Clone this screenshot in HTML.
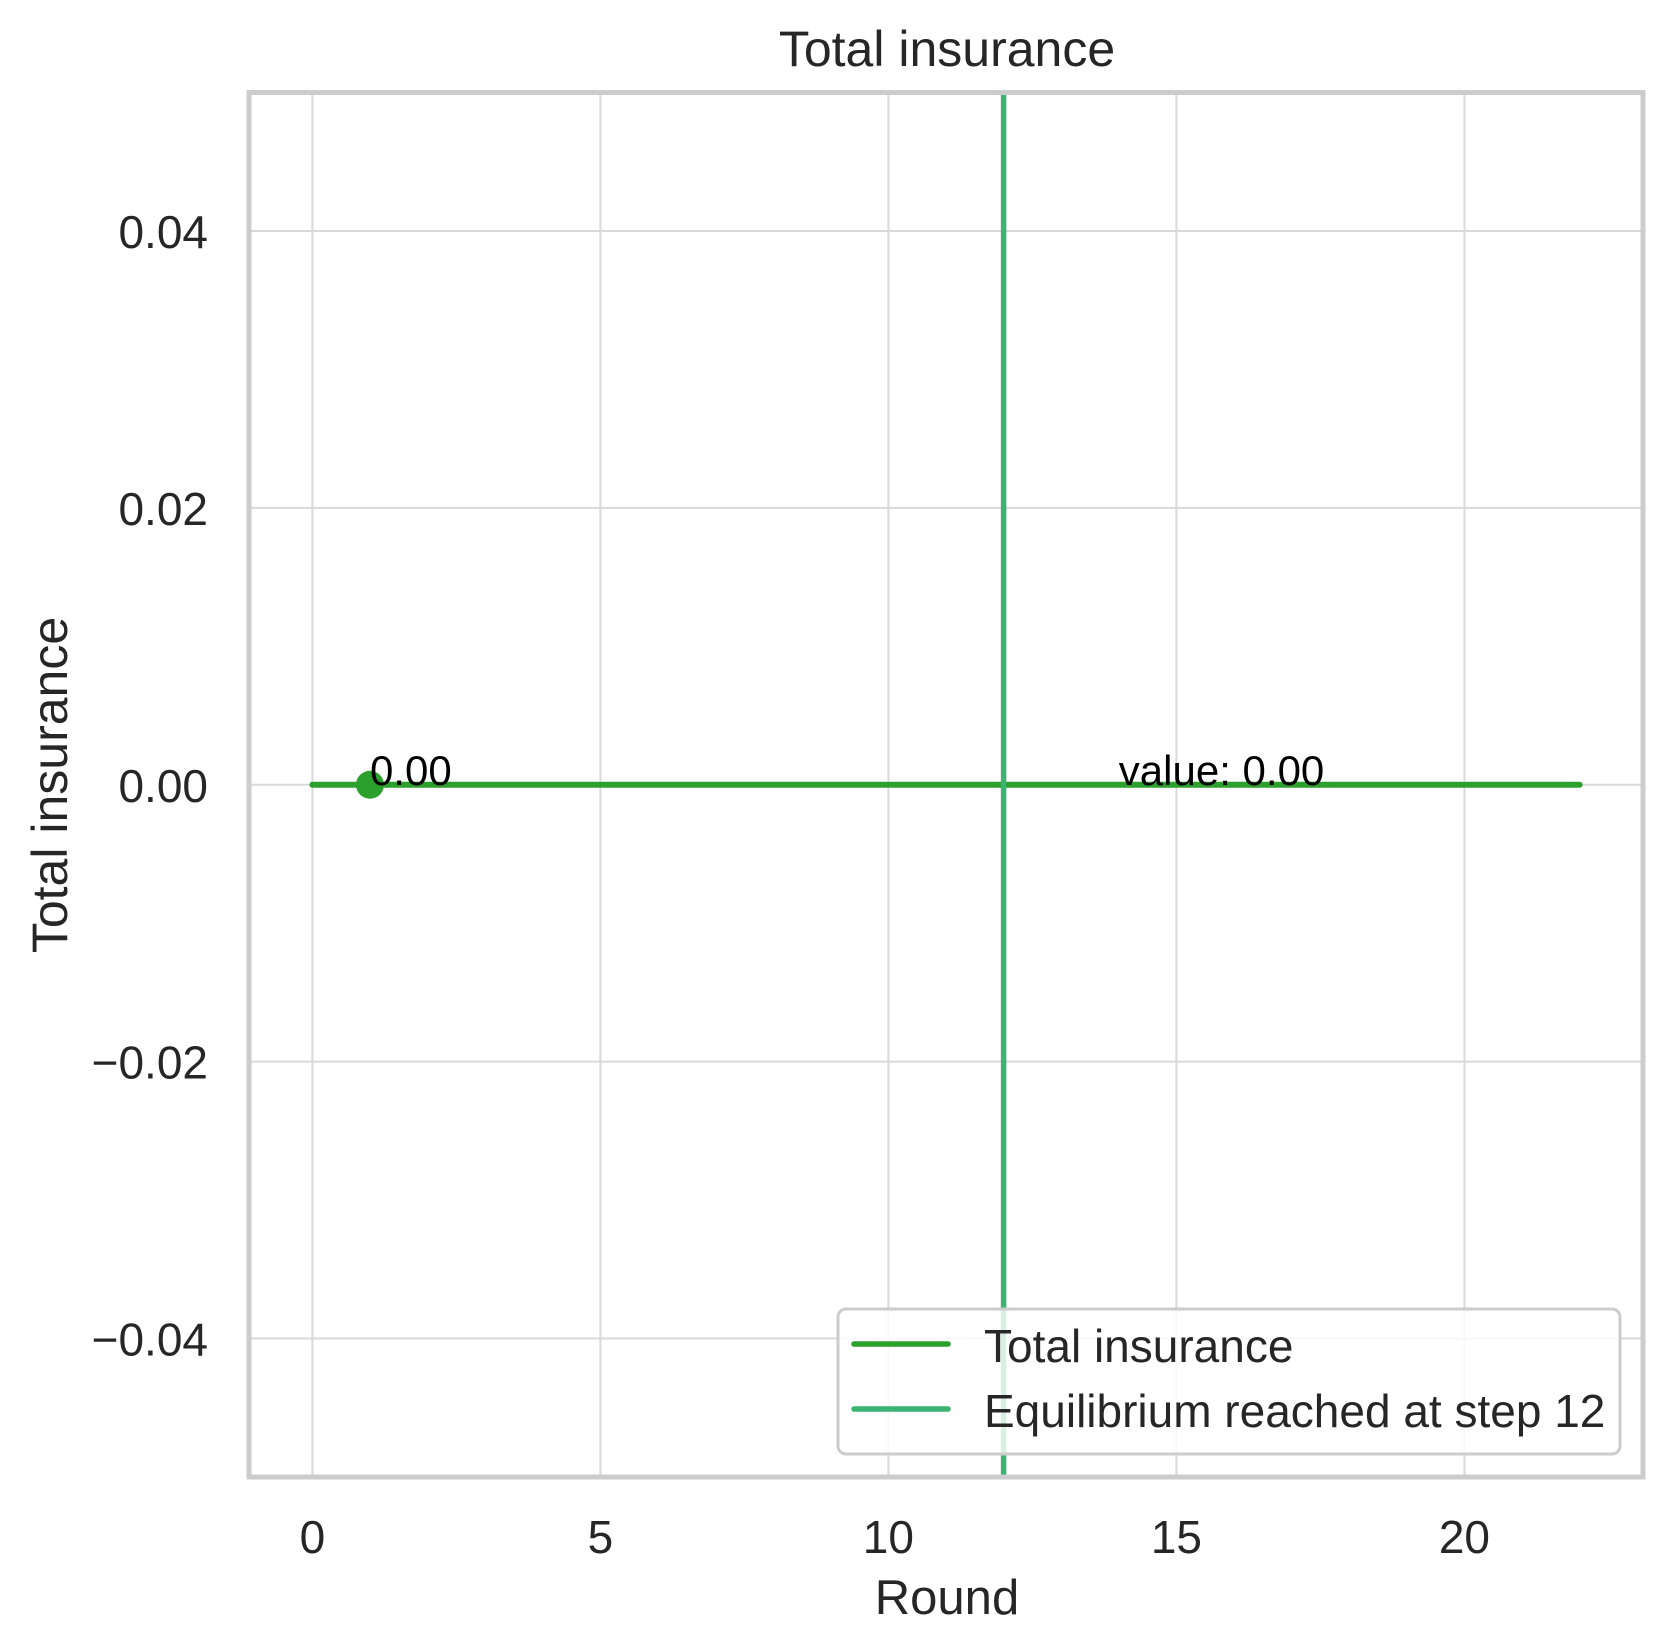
<!DOCTYPE html>
<html><head><meta charset="utf-8"><style>
html,body{margin:0;padding:0;background:#fff;}
svg{display:block;font-family:"Liberation Sans",Arial,sans-serif;}
</style></head><body>
<svg id="chart" width="1673" height="1652" viewBox="0 0 1673 1652" xmlns="http://www.w3.org/2000/svg">
<g id="grid"></g>
<g id="marks"></g>
<rect x="249" y="92.5" width="1394" height="1384.5" fill="none" stroke="#cccccc" stroke-width="5"/>
<g id="ticks"></g>
<text x="947" y="66" font-size="50" fill="#262626" text-anchor="middle">Total insurance</text>
<text x="947" y="1614" font-size="49" fill="#262626" text-anchor="middle">Round</text>
<text x="0" y="0" font-size="50" fill="#262626" text-anchor="middle" transform="translate(67,785) rotate(-90)">Total insurance</text>
<g>
<rect x="838" y="1309" width="782" height="145" rx="8" fill="#ffffff" fill-opacity="0.8" stroke="#cccccc" stroke-width="3"/>
<line x1="854" y1="1344" x2="948" y2="1344" stroke="#2ca02c" stroke-width="5.5" stroke-linecap="round"/>
<text x="984" y="1362" font-size="46" fill="#262626">Total insurance</text>
<line x1="854" y1="1409" x2="948" y2="1409" stroke="#3cb371" stroke-width="5.5" stroke-linecap="round"/>
<text x="984" y="1427" font-size="46" fill="#262626">Equilibrium reached at step 12</text>
</g>
</svg>
<script>
const rounds = [0,1,2,3,4,5,6,7,8,9,10,11,12,13,14,15,16,17,18,19,20,21,22];
const totalInsurance = [0,0,0,0,0,0,0,0,0,0,0,0,0,0,0,0,0,0,0,0,0,0,0];
const xTicks = [0,5,10,15,20];
const yTicks = [-0.04,-0.02,0,0.02,0.04];
const yTickLabels = ["\u22120.04","\u22120.02","0.00","0.02","0.04"];
const equilibriumStep = [12];
const markerRounds = [1];
const annotationRounds = [1,14];
const annotationTexts = ["0.00","value: 0.00"];

const X0=249,X1=1643,Y0=92.5,Y1=1477;
const xMin=-1.1,xMax=23.1,yMin=-0.05,yMax=0.05;
const sx=v=>X0+(v-xMin)/(xMax-xMin)*(X1-X0);
const sy=v=>Y1-(v-yMin)/(yMax-yMin)*(Y1-Y0);
const NS="http://www.w3.org/2000/svg";
function mk(tag,attrs,parent){const e=document.createElementNS(NS,tag);for(const k in attrs)e.setAttribute(k,attrs[k]);parent.appendChild(e);return e;}
const grid=document.getElementById('grid'),marks=document.getElementById('marks'),ticks=document.getElementById('ticks');

xTicks.forEach(t=>{
  const g=mk('line',{x1:sx(t),x2:sx(t),y1:Y0,y2:Y1,stroke:'#d9d9d9','stroke-width':2},grid);
  
  
  const l=mk('text',{x:sx(t),y:1553,'font-size':46,fill:'#262626','text-anchor':'middle'},ticks);
  l.textContent=t;
  
  
});
yTicks.forEach((t,i)=>{
  const g=mk('line',{x1:X0,x2:X1,y1:sy(t),y2:sy(t),stroke:'#d9d9d9','stroke-width':2},grid);
  
  
  const l=mk('text',{x:208,y:sy(t)+17,'font-size':46,fill:'#262626','text-anchor':'end'},ticks);
  l.textContent=yTickLabels[i];
  
  
});

const pts=rounds.map((r,i)=>sx(r)+','+sy(totalInsurance[i])).join(' ');
const line=mk('polyline',{points:pts,fill:'none',stroke:'#2ca02c','stroke-width':6,'stroke-linecap':'round','stroke-linejoin':'round'},marks);



equilibriumStep.forEach(s=>{
  const v=mk('line',{x1:sx(s),x2:sx(s),y1:Y0,y2:Y1,stroke:'#3cb371','stroke-width':5.5},marks);
  
  
});

markerRounds.forEach(r=>{
  const i=rounds.indexOf(r);
  const c=mk('circle',{cx:sx(r),cy:sy(totalInsurance[i]),r:14,fill:'#2ca02c'},marks);
  
  
});

annotationRounds.forEach((r,k)=>{
  const i=rounds.indexOf(r);
  const t=mk('text',{x:sx(r),y:sy(totalInsurance[i]),'font-size':42,fill:'#000'},marks);
  t.textContent=annotationTexts[k];
  
  
});
</script>
</body></html>
